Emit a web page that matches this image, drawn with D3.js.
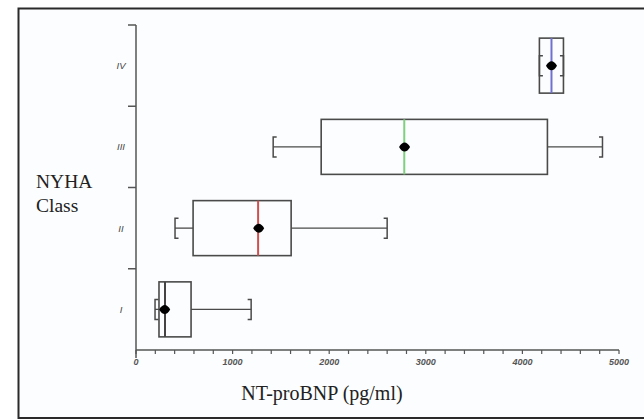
<!DOCTYPE html>
<html><head><meta charset="utf-8">
<script src="https://cdn.jsdelivr.net/npm/d3@7"></script>
<style>html,body{margin:0;padding:0;background:#fff;}svg{display:block;}
.serif{font-family:"Liberation Serif","Times New Roman","DejaVu Serif",serif;}
.sans{font-family:"Liberation Sans",Arial,sans-serif;}
</style>
</head><body>
<svg id="c" width="644" height="420"></svg>
<script>
const categories = ["I", "II", "III", "IV"];
const mins    = [197, 404, 1420, 4176];
const q1s     = [238, 591, 1917, 4176];
const medians = [300, 1264, 2777, 4301];
const q3s     = [570, 1606, 4259, 4425];
const maxs    = [1192, 2600, 4829, 4425];
const means   = [297, 1270, 2780, 4301];
const medianColors = ["#444444", "#d05050", "#7fd07f", "#7070d0"];
const xTickLabels = ["0", "1000", "2000", "3000", "4000", "5000"];

const svg = d3.select("#c");
svg.append("rect").attr("x", 0).attr("y", 0).attr("width", 644).attr("height", 420).attr("fill", "#fff");
svg.append("rect").attr("x", 18.5).attr("y", 8.5).attr("width", 640).attr("height", 409.5)
  .attr("fill", "#fcfdfe").attr("stroke", "#2a2a2a").attr("stroke-width", 2);

const x = d3.scaleLinear().domain([0, 5000]).range([136, 619]);
const y = d3.scaleBand().domain(categories.slice().reverse()).range([25, 350]).paddingInner(0).paddingOuter(0);
const axisColor = "#555";

// x axis
const xAxis = svg.append("g").attr("transform", "translate(0,350)");
xAxis.append("line").attr("x1", 136).attr("x2", 619).attr("stroke", axisColor).attr("stroke-width", 1.5);
xAxis.selectAll("line.t").data(d3.range(0, 5001, 200)).enter().append("line")
  .attr("class", "t").attr("x1", d => x(d)).attr("x2", d => x(d)).attr("y1", 0).attr("y2", 4)
  .attr("stroke", axisColor).attr("stroke-width", 1.2);
xAxis.selectAll("text").data(xTickLabels).enter().append("text")
  .attr("class", "sans")
  .attr("x", d => x(+d)).attr("y", 15).attr("text-anchor", "middle")
  .attr("font-style", "italic").attr("font-weight", "bold")
  .attr("font-size", 9).attr("fill", "#555").text(d => d);

// y axis
const yAxis = svg.append("g");
yAxis.append("line").attr("x1", 136).attr("x2", 136).attr("y1", 25).attr("y2", 358)
  .attr("stroke", axisColor).attr("stroke-width", 1.5);
yAxis.selectAll("line.t").data(categories.slice(1).map(c => y(c) + y.bandwidth()).concat([25])).enter().append("line")
  .attr("class", "t").attr("x1", 128).attr("x2", 136).attr("y1", d => d).attr("y2", d => d)
  .attr("stroke", axisColor).attr("stroke-width", 1.5);
yAxis.selectAll("text").data(categories).enter().append("text")
  .attr("class", "sans")
  .attr("x", 121).attr("y", d => y(d) + y.bandwidth() / 2 + 3.5).attr("text-anchor", "middle")
  .attr("font-style", "italic")
  .attr("font-size", 9.5).attr("fill", "#444").text(d => d);

// boxes
const bh = 55, capH = 20, capW = 3.5;
const stroke = "#4a4a4a";
categories.forEach((c, i) => {
  const cy = y(c) + y.bandwidth() / 2;
  const g = svg.append("g");
  g.append("line").attr("x1", x(mins[i])).attr("x2", x(q1s[i])).attr("y1", cy).attr("y2", cy).attr("stroke", stroke).attr("stroke-width", 1.3);
  g.append("line").attr("x1", x(q3s[i])).attr("x2", x(maxs[i])).attr("y1", cy).attr("y2", cy).attr("stroke", stroke).attr("stroke-width", 1.3);
  const lx = x(mins[i]), rx = x(maxs[i]);
  g.append("path").attr("d", `M${lx + capW},${cy - capH / 2}H${lx}V${cy + capH / 2}H${lx + capW}`)
    .attr("fill", "none").attr("stroke", stroke).attr("stroke-width", 1.5);
  g.append("path").attr("d", `M${rx - capW},${cy - capH / 2}H${rx}V${cy + capH / 2}H${rx - capW}`)
    .attr("fill", "none").attr("stroke", stroke).attr("stroke-width", 1.5);
  g.append("rect").attr("x", x(q1s[i])).attr("y", cy - bh / 2).attr("width", x(q3s[i]) - x(q1s[i])).attr("height", bh)
    .attr("fill", "none").attr("stroke", stroke).attr("stroke-width", 1.6);
  g.append("line").attr("x1", x(medians[i])).attr("x2", x(medians[i])).attr("y1", cy - bh / 2).attr("y2", cy + bh / 2)
    .attr("stroke", medianColors[i]).attr("stroke-width", 2);
  const mx = x(means[i]);
  g.append("path").attr("d", `M${mx - 5.5},${cy}Q${mx - 3},${cy - 4.5} ${mx},${cy - 4.5}Q${mx + 3},${cy - 4.5} ${mx + 5.5},${cy}Q${mx + 3},${cy + 4.5} ${mx},${cy + 4.5}Q${mx - 3},${cy + 4.5} ${mx - 5.5},${cy}Z`)
    .attr("fill", "#000");
});

// titles
svg.append("text").attr("class", "serif").attr("x", 322).attr("y", 400).attr("text-anchor", "middle")
  .attr("font-size", 20).attr("fill", "#222").text("NT-proBNP (pg/ml)");
svg.append("text").attr("class", "serif").attr("x", 36).attr("y", 188)
  .attr("font-size", 19.5).attr("fill", "#222").text("NYHA");
svg.append("text").attr("class", "serif").attr("x", 36).attr("y", 212)
  .attr("font-size", 19.5).attr("fill", "#222").text("Class");
</script>
</body></html>
